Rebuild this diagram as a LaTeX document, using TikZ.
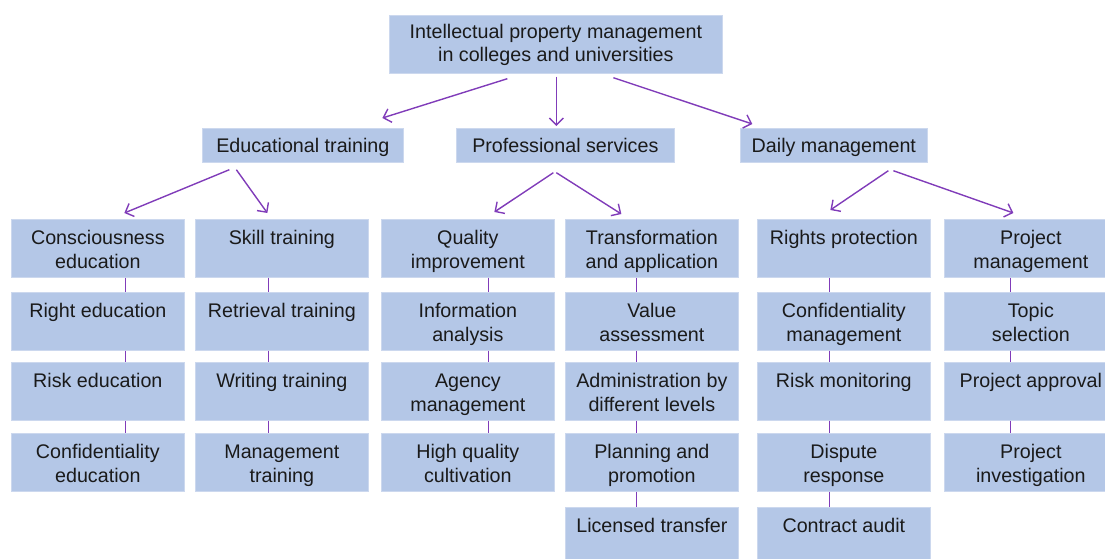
\documentclass[tikz,border=0pt]{standalone}
\usepackage{fontspec}
\setmainfont{Liberation Sans}
\usetikzlibrary{arrows.meta}
\definecolor{boxblue}{HTML}{B4C7E7}
\definecolor{boxedge}{HTML}{CCD8EE}
\definecolor{linkpurple}{RGB}{128,60,185}
\definecolor{ink}{HTML}{1A1A1A}
% two-line cell text: first line sits near the top of the box
\newcommand\boxtext[2]{\rule{0pt}{20.2pt}#1\\#2\rule[-3.8pt]{0pt}{3.8pt}}
\tikzset{
  cell/.style={rectangle, fill=boxblue, draw=boxedge, line width=0.7pt,
    inner sep=0pt, anchor=north west, align=center, text=ink,
    font=\fontsize{19.7}{24}\selectfont},
  leaf/.style={cell, minimum width=173pt, minimum height=58pt},
  branch/.style={cell, minimum height=34pt, text height=15.5pt, text depth=1.5pt},
  link/.style={draw=linkpurple, line width=1.4pt},
  arr/.style={link, -{Straight Barb[length=7pt,width=14pt,line width=1.4pt]}}
}
\begin{document}
\begin{tikzpicture}[x=1pt,y=-1pt]
\useasboundingbox (0,0) rectangle (1105,558);
\clip (0,0) rectangle (1105,558);

% root
\node[cell, minimum width=333pt, minimum height=58pt,
  font=\fontsize{19.7}{23.5}\selectfont] (root) at (389,15)
  {\rule{0pt}{15.5pt}Intellectual property management\\in colleges and universities};

% second level
\node[branch, minimum width=201pt] (edu) at (202,128) {Educational training};
\node[branch, minimum width=218pt] (prof) at (456,128) {Professional services};
\node[branch, minimum width=187pt] (daily) at (740,128) {Daily management};

% column 1
\node[leaf] (a1) at (11,219) {\boxtext{Consciousness}{education}};
\node[leaf] (a2) at (11,292) {\boxtext{Right education}{}};
\node[leaf] (a3) at (11,362) {\boxtext{Risk education}{}};
\node[leaf] (a4) at (11,433) {\boxtext{Confidentiality}{education}};
% column 2
\node[leaf] (b1) at (195,219) {\boxtext{Skill training}{}};
\node[leaf] (b2) at (195,292) {\boxtext{Retrieval training}{}};
\node[leaf] (b3) at (195,362) {\boxtext{Writing training}{}};
\node[leaf] (b4) at (195,433) {\boxtext{Management}{training}};
% column 3
\node[leaf] (c1) at (381,219) {\boxtext{Quality}{improvement}};
\node[leaf] (c2) at (381,292) {\boxtext{Information}{analysis}};
\node[leaf] (c3) at (381,362) {\boxtext{Agency}{management}};
\node[leaf] (c4) at (381,433) {\boxtext{High quality}{cultivation}};
% column 4
\node[leaf] (d1) at (565,219) {\boxtext{Transformation}{and application}};
\node[leaf] (d2) at (565,292) {\boxtext{Value}{assessment}};
\node[leaf] (d3) at (565,362) {\boxtext{Administration by}{different levels}};
\node[leaf] (d4) at (565,433) {\boxtext{Planning and}{promotion}};
\node[leaf] (d5) at (565,507) {\boxtext{Licensed transfer}{}};
% column 5
\node[leaf] (e1) at (757,219) {\boxtext{Rights protection}{}};
\node[leaf] (e2) at (757,292) {\boxtext{Confidentiality}{management}};
\node[leaf] (e3) at (757,362) {\boxtext{Risk monitoring}{}};
\node[leaf] (e4) at (757,433) {\boxtext{Dispute}{response}};
\node[leaf] (e5) at (757,507) {\boxtext{Contract audit}{}};
% column 6
\node[leaf] (f1) at (944,219) {\boxtext{Project}{management}};
\node[leaf] (f2) at (944,292) {\boxtext{Topic}{selection}};
\node[leaf] (f3) at (944,362) {\boxtext{Project approval}{}};
\node[leaf] (f4) at (944,433) {\boxtext{Project}{investigation}};

% arrows from the root
\draw[arr] ([xshift=-48.5pt,yshift=-5pt]root.south) -- ([xshift=79.5pt,yshift=10pt]edu.north);
\draw[arr] ([xshift=0.5pt,yshift=-3pt]root.south) -- ([xshift=-9pt,yshift=2pt]prof.north);
\draw[arr] ([xshift=57.5pt,yshift=-4pt]root.south) -- ([xshift=-81.5pt,yshift=4pt]daily.north);

% arrows from the second level
\draw[arr] ([xshift=-73.5pt,yshift=-7pt]edu.south) -- ([xshift=26.5pt,yshift=6pt]a1.north);
\draw[arr] ([xshift=-66.5pt,yshift=-7pt]edu.south) -- ([xshift=-14.5pt,yshift=6pt]b1.north);
\draw[arr] ([xshift=-12pt,yshift=-10pt]prof.south) -- ([xshift=26.5pt,yshift=7pt]c1.north);
\draw[arr] ([xshift=-9pt,yshift=-10pt]prof.south) -- ([xshift=-30.5pt,yshift=5pt]d1.north);
\draw[arr] ([xshift=54.5pt,yshift=-8pt]daily.south) -- ([xshift=-13.5pt,yshift=9pt]e1.north);
\draw[arr] ([xshift=59.5pt,yshift=-8pt]daily.south) -- ([xshift=-17.5pt,yshift=6pt]f1.north);

% vertical links inside each column
\foreach \u/\v in {a1/a2,a2/a3,a3/a4}
  \draw[link] ([xshift=27.5pt]\u.south) -- ([xshift=27.5pt]\v.north);
\foreach \u/\v in {b1/b2,b2/b3,b3/b4}
  \draw[link] ([xshift=-13.5pt]\u.south) -- ([xshift=-13.5pt]\v.north);
\foreach \u/\v in {c1/c2,c2/c3,c3/c4}
  \draw[link] ([xshift=20.5pt]\u.south) -- ([xshift=20.5pt]\v.north);
\foreach \u/\v in {d1/d2,d2/d3,d3/d4,d4/d5}
  \draw[link] ([xshift=-15.5pt]\u.south) -- ([xshift=-15.5pt]\v.north);
\foreach \u/\v in {e1/e2,e2/e3,e3/e4,e4/e5}
  \draw[link] ([xshift=-14.5pt]\u.south) -- ([xshift=-14.5pt]\v.north);
\foreach \u/\v in {f1/f2,f2/f3,f3/f4}
  \draw[link] ([xshift=-20.5pt]\u.south) -- ([xshift=-20.5pt]\v.north);
\end{tikzpicture}
\end{document}
